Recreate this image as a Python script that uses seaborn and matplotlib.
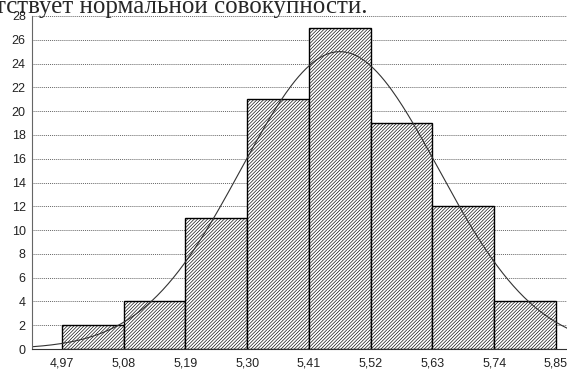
import numpy as np
import pandas as pd
import matplotlib
matplotlib.use("Agg")
import matplotlib.pyplot as plt
import seaborn as sns

# histogram data
bin_edges = [4.97, 5.08, 5.19, 5.30, 5.41, 5.52, 5.63, 5.74, 5.85]
counts = [2, 4, 11, 21, 27, 19, 12, 4]
tick_labels = ["4,97", "5,08", "5,19", "5,30", "5,41", "5,52", "5,63", "5,74", "5,85"]

# fitted normal curve parameters
mu = 5.465
sigma = 0.1755
n_total = sum(counts)
bin_width = 0.11

sns.set_style("white")
plt.rcParams["font.family"] = ["Liberation Sans", "DejaVu Sans"]
plt.rcParams["hatch.linewidth"] = 0.45
plt.rcParams["hatch.color"] = "#333333"

fig = plt.figure(figsize=(5.67, 3.72), dpi=100)
ax = fig.add_axes([32 / 567, 23 / 372, 535 / 567, 333 / 372])

centers = [(bin_edges[i] + bin_edges[i + 1]) / 2 for i in range(len(counts))]
hist_df = pd.DataFrame({"x": centers, "n": counts})

ax.set_axisbelow(True)
ax.yaxis.grid(True, linestyle=(0, (1, 1)), color="#666666", linewidth=0.7)

sns.histplot(data=hist_df, x="x", weights="n", bins=bin_edges, ax=ax,
             stat="count", fill=True, color="white", alpha=1,
             edgecolor="black", linewidth=1.0)
for p in ax.patches:
    p.set_hatch("/" * 10)
    p.set_facecolor("white")

xs = np.linspace(4.9166, 5.8696, 300)
ys = n_total * bin_width / (sigma * np.sqrt(2 * np.pi)) * np.exp(-0.5 * ((xs - mu) / sigma) ** 2)
sns.lineplot(x=xs, y=ys, ax=ax, color="#333333", linewidth=0.8)

ax.set_xlim(4.9166, 5.8696)
ax.set_ylim(0, 28)
ax.set_xticks(bin_edges)
ax.set_xticklabels(tick_labels)
ax.set_yticks(range(0, 29, 2))
ax.tick_params(axis="x", length=0, labelsize=9, pad=6, labelcolor="#222222")
ax.tick_params(axis="y", length=3, direction="inout", labelsize=9, pad=3, labelcolor="#222222")
ax.set_xlabel("")
ax.set_ylabel("")
for s in ["top", "right"]:
    ax.spines[s].set_visible(False)
ax.spines["left"].set_color("#666666")
ax.spines["bottom"].set_color("#333333")

fig.text(-0.008, 1 - 13 / 372, "тствует нормальной совокупности.",
         family="Liberation Serif", fontsize=18, va="baseline", ha="left")

fig.savefig("out.png", dpi=100)
